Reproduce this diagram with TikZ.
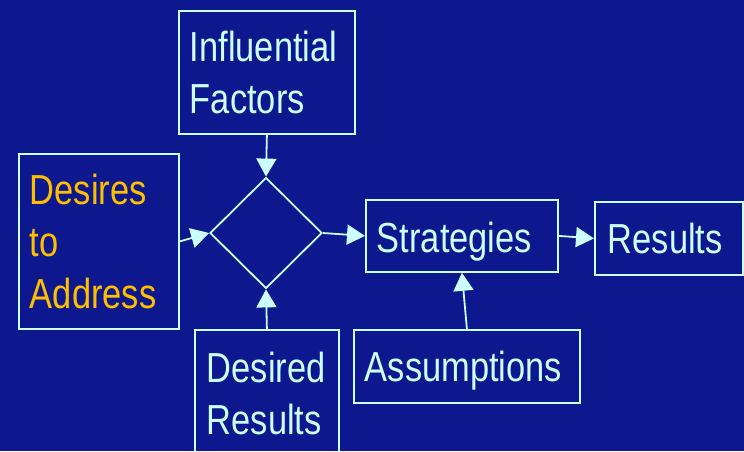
\documentclass[tikz,border=0pt]{standalone}
\usepackage{fontspec}
\setmainfont{Liberation Sans}[FakeStretch=0.82]
\usetikzlibrary{arrows.meta,shapes.geometric}
\definecolor{bg}{HTML}{0E188E}
\definecolor{ln}{HTML}{CCFFFF}
\definecolor{org}{HTML}{FFBF00}
\tikzset{
  box/.style={draw=ln, line width=1.8pt, rectangle, anchor=north west, inner xsep=11pt, inner ysep=0pt,
    align=left, text=ln, font=\fontsize{42}{52}\selectfont},
  conn/.style={draw=ln, line width=1.8pt, -{Triangle[length=18pt,width=20pt]}, fill=ln}
}
\begin{document}
\begin{tikzpicture}[x=1pt,y=-1pt]
\fill[bg] (0,0) rectangle (744,451);
\useasboundingbox (0,0) rectangle (744,451);
\clip (0,0) rectangle (744,451);
\node[box, minimum width=176pt, minimum height=123pt, text width=154pt] (inf) at (178,10) {Influential\\Factors};
\node[box, minimum width=160pt, minimum height=175pt, text width=138pt, text=org] (des) at (18,153) {Desires\\to\\Address};
\node[draw=ln, line width=1.8pt, diamond, inner sep=0pt, minimum width=112pt, minimum height=111pt] (dia) at (266,233) {};
\node[box, minimum width=192pt, minimum height=72pt, text width=170pt, text depth=0pt] (strat) at (365,199) {\raisebox{-2pt}{Strategies}};
\node[box, minimum width=144pt, minimum height=73pt, text width=122pt, inner xsep=13pt] (res) at (594,201) {Results};
\node[box, minimum width=144pt, minimum height=127pt, text width=120pt, inner xsep=12pt] (dr) at (194,329) {Desired\\Results};
\node[box, minimum width=226pt, minimum height=73pt, text width=204pt, text depth=0pt] (ass) at (353,329) {Assumptions};
\draw[conn] (inf.south) -- (dia.north);
\draw[conn] (des.east) -- (dia.west);
\draw[conn] (dr.north) -- (dia.south);
\draw[conn] (dia.east) -- (strat.west);
\draw[conn] (ass.north) -- (strat.south);
\draw[conn] (strat.east) -- (res.west);
\end{tikzpicture}
\end{document}
